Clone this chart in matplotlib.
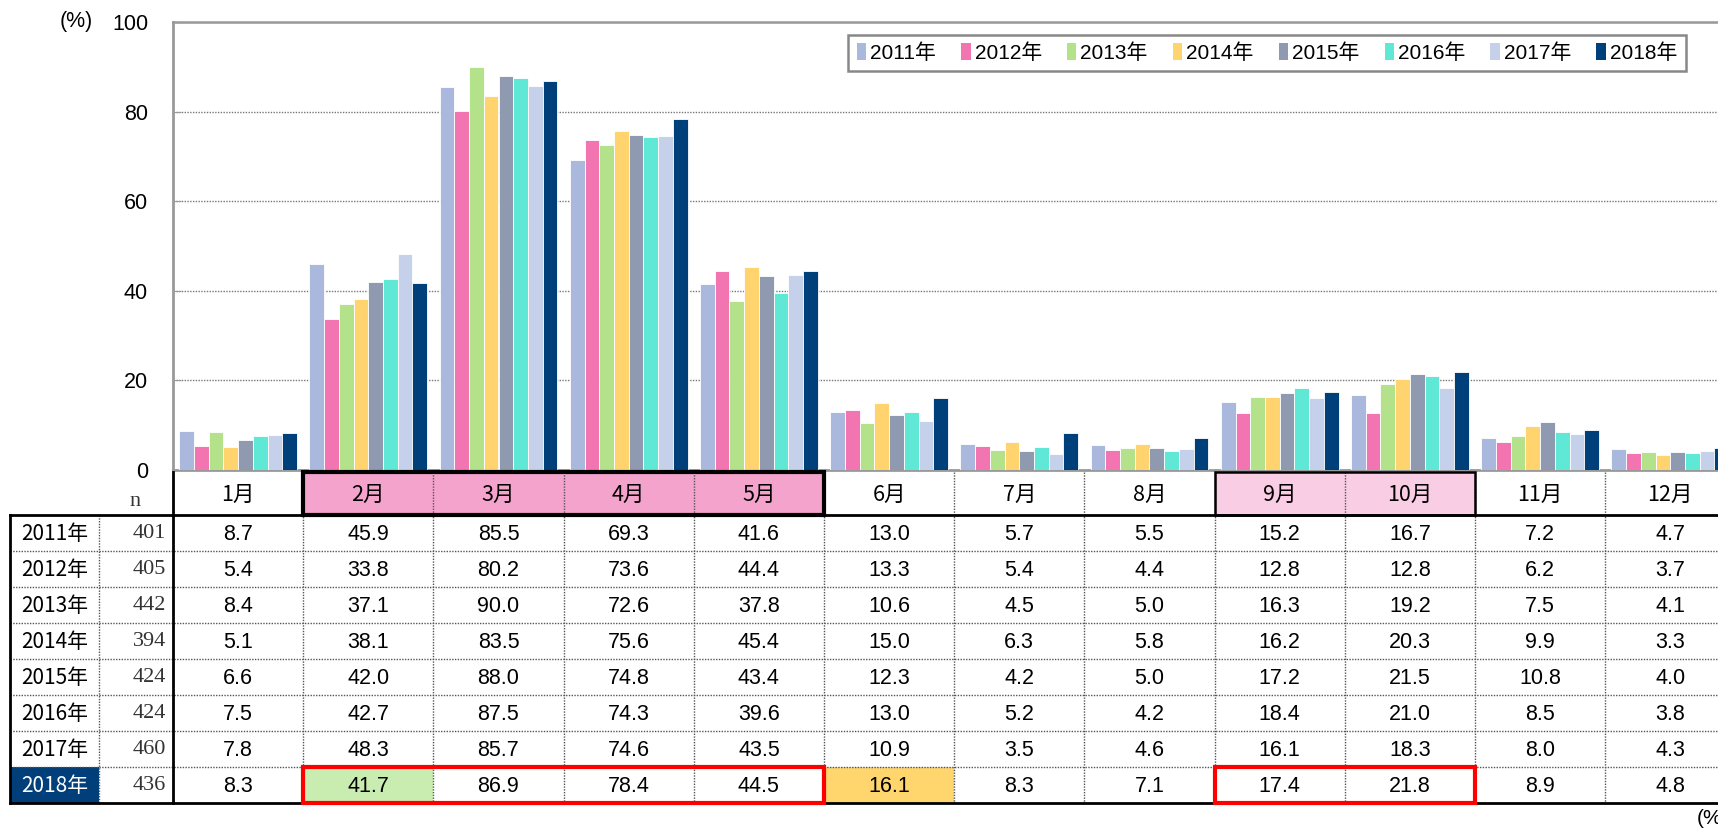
import numpy as np
import matplotlib.pyplot as plt
from matplotlib.patches import Rectangle

# -----------------------
# Data
# -----------------------
months = ["1月", "2月", "3月", "4月", "5月", "6月",
          "7月", "8月", "9月", "10月", "11月", "12月"]
years = ["2011年", "2012年", "2013年", "2014年", "2015年", "2016年", "2017年", "2018年"]
n_vals = [401, 405, 442, 394, 424, 424, 460, 436]

v2011 = [8.7, 45.9, 85.5, 69.3, 41.6, 13.0, 5.7, 5.5, 15.2, 16.7, 7.2, 4.7]
v2012 = [5.4, 33.8, 80.2, 73.6, 44.4, 13.3, 5.4, 4.4, 12.8, 12.8, 6.2, 3.7]
v2013 = [8.4, 37.1, 90.0, 72.6, 37.8, 10.6, 4.5, 5.0, 16.3, 19.2, 7.5, 4.1]
v2014 = [5.1, 38.1, 83.5, 75.6, 45.4, 15.0, 6.3, 5.8, 16.2, 20.3, 9.9, 3.3]
v2015 = [6.6, 42.0, 88.0, 74.8, 43.4, 12.3, 4.2, 5.0, 17.2, 21.5, 10.8, 4.0]
v2016 = [7.5, 42.7, 87.5, 74.3, 39.6, 13.0, 5.2, 4.2, 18.4, 21.0, 8.5, 3.8]
v2017 = [7.8, 48.3, 85.7, 74.6, 43.5, 10.9, 3.5, 4.6, 16.1, 18.3, 8.0, 4.3]
v2018 = [8.3, 41.7, 86.9, 78.4, 44.5, 16.1, 8.3, 7.1, 17.4, 21.8, 8.9, 4.8]
series = [v2011, v2012, v2013, v2014, v2015, v2016, v2017, v2018]

colors = ["#AAB8DD", "#F274B0", "#B3E28A", "#FFD36E",
          "#8F9AB0", "#5FE8D5", "#C5D0EA", "#00407A"]

# -----------------------
# Layout (pixels)
# -----------------------
W, H = 1718, 831
col0 = 173          # left of 1月 column
colw = 130.2        # month column width
yr_left, n_left = 10, 99
hdr_top, hdr_bot = 472, 515
rowh = 36
tab_bot = hdr_bot + rowh * len(years)
plot_top, plot_bot = 22, 470

num_font = ["Liberation Sans", "Noto Sans CJK JP"]
jp_font = ["Noto Sans CJK JP", "DejaVu Sans"]

fig = plt.figure(figsize=(W / 100, H / 100), dpi=100)

# -----------------------
# Bar chart
# -----------------------
ax = fig.add_axes([col0 / W, 1 - plot_bot / H, 12 * colw / W, (plot_bot - plot_top) / H])
x = np.arange(len(months))
bw = 0.113
for k, (vals, c) in enumerate(zip(series, colors)):
    ax.bar(x + (k - 3.5) * bw, vals, width=bw, color=c, edgecolor="white",
           linewidth=0.6, label=years[k], zorder=3)

ax.set_xlim(-0.5, 11.5)
ax.set_ylim(0, 100)
ax.set_yticks([0, 20, 40, 60, 80, 100])
ax.set_xticks([])
ax.yaxis.grid(True, linestyle=(0, (1, 1)), color="#777777", linewidth=1, zorder=0)
for s in ["left", "bottom"]:
    ax.spines[s].set_color("#999999")
    ax.spines[s].set_linewidth(2)
ax.spines["top"].set_linestyle((0, (1.5, 1)))
ax.spines["top"].set_color("#999999")
ax.spines["top"].set_linewidth(1.8)
ax.spines["right"].set_visible(False)
ax.tick_params(axis="y", direction="in", length=6, color="#999999",
               labelsize=15.5, pad=18)
for t in ax.get_yticklabels():
    t.set_fontfamily(num_font)
fig.text(76 / W, 1 - 21 / H, "(%)", ha="center", va="center", fontsize=15.5,
         family=num_font)

leg = ax.legend(ncol=8, loc="center", mode="expand",
                bbox_to_anchor=((838 - col0) / (12 * colw), 1 - (53 - plot_top) / (plot_bot - plot_top),
                                (1696 - 838) / (12 * colw), 0.0),
                bbox_transform=ax.transAxes,
                prop={"family": num_font, "size": 15},
                handlelength=0.45, handleheight=0.9, handletextpad=0.2,
                columnspacing=0.6, fancybox=False, framealpha=1,
                borderpad=0.4)
leg.get_frame().set_edgecolor("#888888")
leg.get_frame().set_linewidth(1.8)
for h in leg.legend_handles:
    h.set_edgecolor("none")

# -----------------------
# Table (pixel coordinates)
# -----------------------
tab = fig.add_axes([0, 0, 1, 1])
tab.set_xlim(0, W)
tab.set_ylim(H, 0)
tab.axis("off")


def cell_x(i):
    return col0 + i * colw


dot = dict(color="#555555", linewidth=1, linestyle=(0, (1, 1)))

# header fills
for i in range(1, 5):
    tab.add_patch(Rectangle((cell_x(i), hdr_top), colw, hdr_bot - hdr_top,
                            facecolor="#F4A3CC", edgecolor="none"))
for i in range(8, 10):
    tab.add_patch(Rectangle((cell_x(i), hdr_top), colw, hdr_bot - hdr_top,
                            facecolor="#F9CDE3", edgecolor="none"))

# special cell fills
last = len(years) - 1
ylast = hdr_bot + last * rowh
tab.add_patch(Rectangle((yr_left, ylast), n_left - yr_left, rowh,
                        facecolor="#003F7A", edgecolor="none"))
tab.add_patch(Rectangle((cell_x(1), ylast), colw, rowh,
                        facecolor="#C9EDB0", edgecolor="none"))
tab.add_patch(Rectangle((cell_x(5), ylast), colw, rowh,
                        facecolor="#FFD56E", edgecolor="none"))

# dotted grid lines
for r in range(1, len(years)):
    y = hdr_bot + r * rowh
    tab.plot([yr_left, W], [y, y], **dot)
for i in range(1, 13):
    tab.plot([cell_x(i), cell_x(i)], [hdr_top, tab_bot], **dot)
tab.plot([n_left, n_left], [hdr_bot, tab_bot], **dot)

# solid borders
tab.plot([yr_left, W], [hdr_bot, hdr_bot], color="black", linewidth=2)
tab.plot([yr_left, W], [tab_bot, tab_bot], color="black", linewidth=2)
tab.plot([yr_left, yr_left], [hdr_bot, tab_bot], color="black", linewidth=2)
tab.plot([col0, col0], [hdr_top, tab_bot], color="black", linewidth=2)

# highlighted header blocks
tab.add_patch(Rectangle((cell_x(1), hdr_top), 4 * colw, hdr_bot - hdr_top,
                        facecolor="none", edgecolor="black", linewidth=3, zorder=5))
tab.add_patch(Rectangle((cell_x(8), hdr_top), 2 * colw, hdr_bot - hdr_top,
                        facecolor="none", edgecolor="black", linewidth=1.8, zorder=5))

# red boxes on 2018 row
tab.add_patch(Rectangle((cell_x(1), ylast), 4 * colw, rowh,
                        facecolor="none", edgecolor="#FF0000", linewidth=3, zorder=6))
tab.add_patch(Rectangle((cell_x(8), ylast), 2 * colw, rowh,
                        facecolor="none", edgecolor="#FF0000", linewidth=3, zorder=6))

# header texts
tab.text(135, 502, "n", ha="center", va="center", fontsize=16,
         family="Liberation Serif", color="#333333")
for i, m in enumerate(months):
    tab.text(cell_x(i) + colw / 2, (hdr_top + hdr_bot) / 2 + 1, m, ha="center",
             va="center", fontsize=15.5, family=jp_font)

# body texts
for r, (yl, nv, vals) in enumerate(zip(years, n_vals, series)):
    yc = hdr_bot + r * rowh + rowh / 2 + 1
    tab.text((yr_left + n_left) / 2, yc, yl, ha="center", va="center", fontsize=15,
             family=jp_font, color="white" if r == last else "black")
    tab.text(166, yc, str(nv), ha="right", va="center", fontsize=16,
             family="Liberation Serif", color="#333333")
    for i, v in enumerate(vals):
        tab.text(cell_x(i) + colw / 2, yc, f"{v:.1f}", ha="center", va="center",
                 fontsize=15.5, family=num_font)

tab.text(1697, 819, "(%)", ha="left", va="center", fontsize=15, family=num_font)

fig.savefig("out.png", dpi=100)
